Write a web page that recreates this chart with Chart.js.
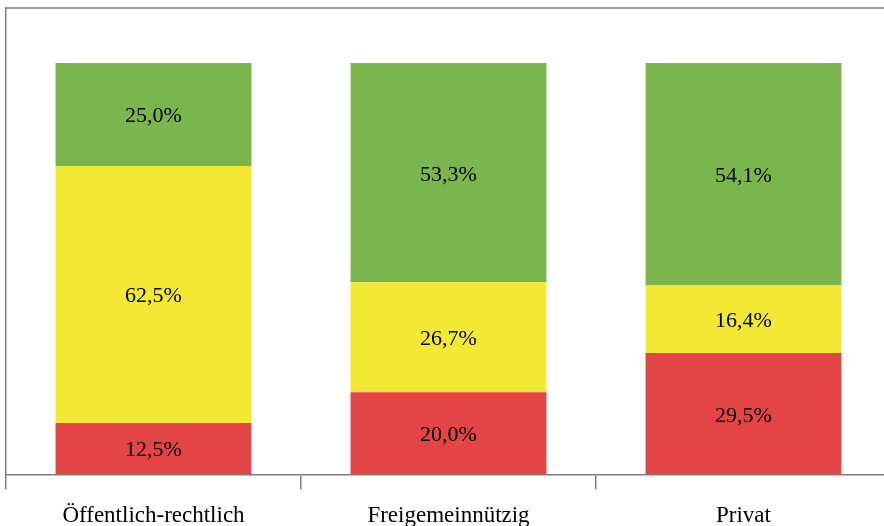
<!DOCTYPE html>
<html>
<head>
<meta charset="utf-8">
<script src="https://cdn.jsdelivr.net/npm/chart.js@4.4.0/dist/chart.umd.min.js"></script>
<style>
  html, body { margin: 0; padding: 0; background: #fff; overflow: hidden; }
  #wrap { position: absolute; left: 0; top: 0; width: 891px; height: 543px; }
</style>
</head>
<body>
<div id="wrap"><canvas id="c"></canvas></div>
<script>
const categories = ["Öffentlich-rechtlich", "Freigemeinnützig", "Privat"];
const redValues = [12.5, 20.0, 29.5];
const yellowValues = [62.5, 26.7, 16.4];
const greenValues = [25.0, 53.3, 54.1];

const frameColor = "#7f7f7f";

const valueLabels = {
  id: "valueLabels",
  afterDatasetsDraw(chart) {
    const ctx = chart.ctx;
    ctx.save();
    ctx.font = "22px 'Liberation Serif'";
    ctx.fillStyle = "#000";
    ctx.textAlign = "center";
    ctx.textBaseline = "middle";
    chart.data.datasets.forEach((ds, i) => {
      const meta = chart.getDatasetMeta(i);
      meta.data.forEach((bar, j) => {
        const v = ds.data[j];
        const yMid = (bar.y + bar.base) / 2;
        ctx.fillText(v.toFixed(1).replace(".", ",") + "%", bar.x, yMid + 2);
      });
    });
    ctx.restore();
  }
};

const topFrame = {
  id: "topFrame",
  afterDraw(chart) {
    const ctx = chart.ctx;
    const a = chart.chartArea;
    ctx.save();
    ctx.strokeStyle = frameColor;
    ctx.lineWidth = 1.5;
    ctx.beginPath();
    ctx.moveTo(a.left, a.top);
    ctx.lineTo(chart.width, a.top);
    ctx.stroke();
    ctx.restore();
  }
};

new Chart(document.getElementById("c"), {
  type: "bar",
  data: {
    labels: categories,
    datasets: [
      { label: "rot", data: redValues, backgroundColor: "#e34546" },
      { label: "gelb", data: yellowValues, backgroundColor: "#f3e934" },
      { label: "grün", data: greenValues, backgroundColor: "#7ab54e" }
    ]
  },
  options: {
    responsive: true,
    maintainAspectRatio: false,
    animation: false,
    layout: { padding: { left: 6, top: 8, right: 0, bottom: 0 } },
    plugins: { legend: { display: false }, tooltip: { enabled: false } },
    datasets: { bar: { barPercentage: 0.664, categoryPercentage: 1.0, borderWidth: 0 } },
    scales: {
      x: {
        stacked: true,
        grid: {
          display: true,
          offset: true,
          drawOnChartArea: false,
          drawTicks: true,
          tickLength: 15,
          color: frameColor,
          lineWidth: 1.5
        },
        border: { display: true, color: frameColor, width: 1.5 },
        ticks: {
          color: "#000",
          font: { family: "'Liberation Serif'", size: 23 },
          padding: 13,
          maxRotation: 0
        }
      },
      y: {
        stacked: true,
        min: 0,
        max: 113.4,
        display: true,
        grid: { display: false, drawTicks: false },
        border: { display: true, color: frameColor, width: 1.5 },
        ticks: { display: false }
      }
    }
  },
  plugins: [valueLabels, topFrame]
});
</script>
</body>
</html>
